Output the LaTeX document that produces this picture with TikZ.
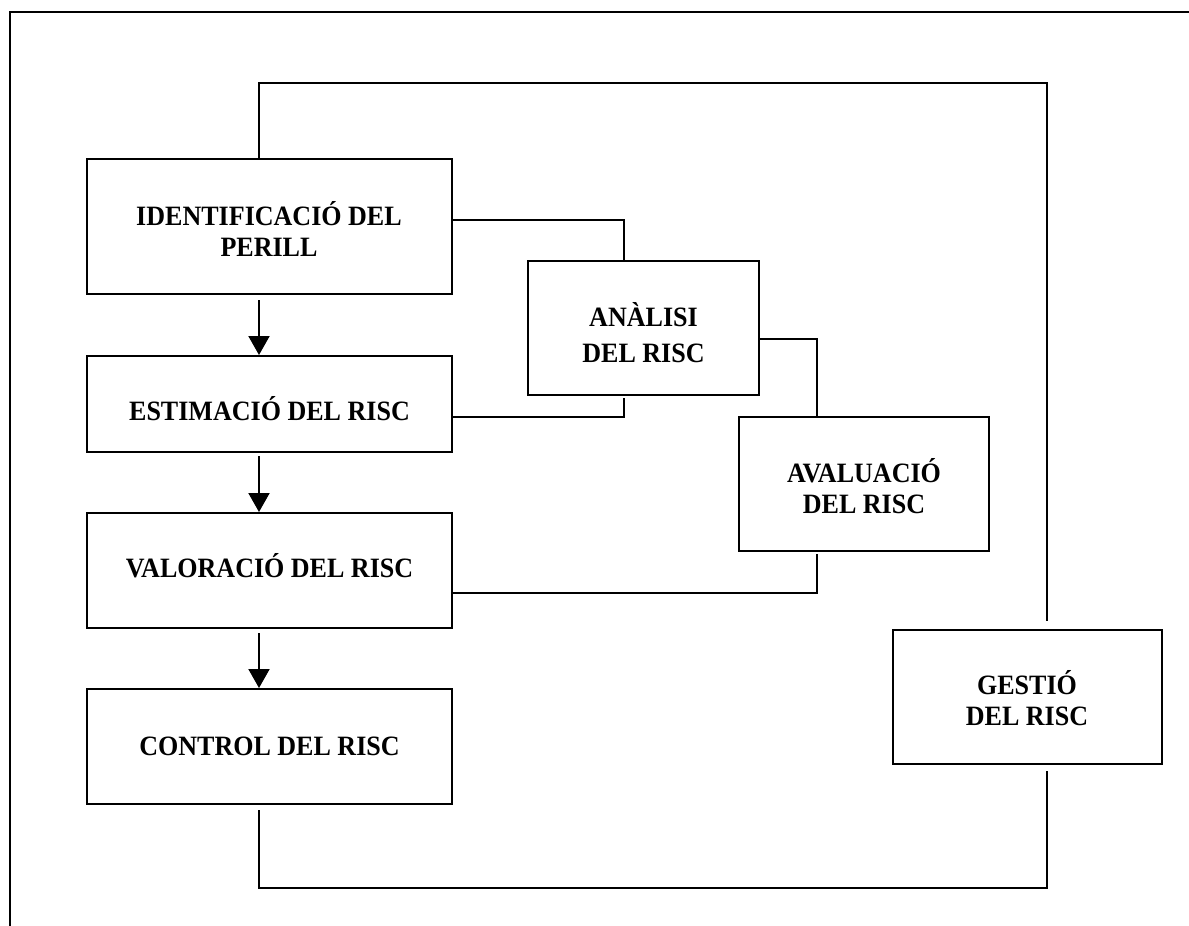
\documentclass[tikz,border=0pt]{standalone}
\usepackage{fontspec}
\setmainfont{Liberation Serif}
\newfontfamily\lblfont[FakeStretch=0.93]{Liberation Serif}
\usetikzlibrary{arrows.meta,calc}
\tikzset{
  box/.style={draw, line width=1pt, inner sep=0pt},
  lbl/.style={inner sep=0pt, align=center, font=\lblfont\bfseries\fontsize{14}{15.5}\selectfont},
  link/.style={line width=1pt},
  arr/.style={line width=1pt, -{Triangle[width=10.5pt,length=9.5pt]}},
  frame/.style={line width=1.35pt}
}
\begin{document}
\begin{tikzpicture}[x=0.5pt,y=-0.5pt]
\useasboundingbox (0,0) rectangle (1189,926);
% outer frame (top and left edges visible)
\coordinate (fbl) at (10,926);
\coordinate (ftl) at (10,12);
\coordinate (ftr) at (1189,12);
\draw[frame] (fbl) -- (ftl) -- (ftr);

% boxes
\node[box, minimum width=182.5pt, minimum height=67.5pt] (ident) at (269.5,226.5) {};
\node[box, minimum width=182.5pt, minimum height=48pt]   (estim) at (269.5,404) {};
\node[box, minimum width=182.5pt, minimum height=57.5pt] (valor) at (269.5,570.5) {};
\node[box, minimum width=182.5pt, minimum height=57.5pt] (contr) at (269.5,746.5) {};
\node[box, minimum width=115.5pt, minimum height=67pt]   (anal)  at (643.5,328) {};
\node[box, minimum width=125pt,   minimum height=67pt]   (aval)  at (864,484) {};
\node[box, minimum width=134.5pt, minimum height=67pt]   (gest)  at (1027.5,697) {};

% labels
\node[lbl] (identT) at (269,228.5) {IDENTIFICACIÓ DEL\\PERILL};
\node[lbl] (estimT) at (269.5,408.5) {ESTIMACIÓ DEL RISC};
\node[lbl] (valorT) at (269.5,566) {VALORACIÓ DEL RISC};
\node[lbl] (contrT) at (269.5,746) {CONTROL DEL RISC};
\node[lbl, font=\lblfont\bfseries\fontsize{14}{18}\selectfont] (analT) at (643.5,332.5) {ANÀLISI\\DEL RISC};
\node[lbl] (avalT) at (864,486) {AVALUACIÓ\\DEL RISC};
\node[lbl] (gestT) at (1027,698.5) {GESTIÓ\\DEL RISC};

% spine coordinates
\coordinate (sp) at (259,0);
\coordinate (rs) at (1047,0);
\coordinate (topy) at (0,83);
\coordinate (boty) at (0,888);

% downward arrows
\draw[arr] ([yshift=-2.5pt]ident.south -| sp) -- (estim.north -| sp);
\draw[arr] ([yshift=-1.5pt]estim.south -| sp) -- (valor.north -| sp);
\draw[arr] ([yshift=-2pt]valor.south -| sp) -- (contr.north -| sp);

% outer loop
\draw[link] (ident.north -| sp) -- (sp |- topy) -- (rs |- topy) -- ([yshift=4pt]gest.north -| rs);
\draw[link] ([yshift=-3pt]gest.south -| rs) -- (rs |- boty) -- (sp |- boty) -- ([yshift=-2.5pt]contr.south -| sp);

% analysis connectors
\coordinate (ax) at (624,0);
\coordinate (bx) at (817,0);
\draw[link] (ident.east |- 0,220) -- (ax |- 0,220) -- (anal.north -| ax);
\draw[link] (estim.east |- 0,417) -- (ax |- 0,417) -- ([yshift=-1pt]anal.south -| ax);
\draw[link] (anal.east |- 0,339) -- (bx |- 0,339) -- (aval.north -| bx);
\draw[link] ([yshift=-1pt]aval.south -| bx) -- (bx |- 0,593) -- (valor.east |- 0,593);
\end{tikzpicture}
\end{document}
